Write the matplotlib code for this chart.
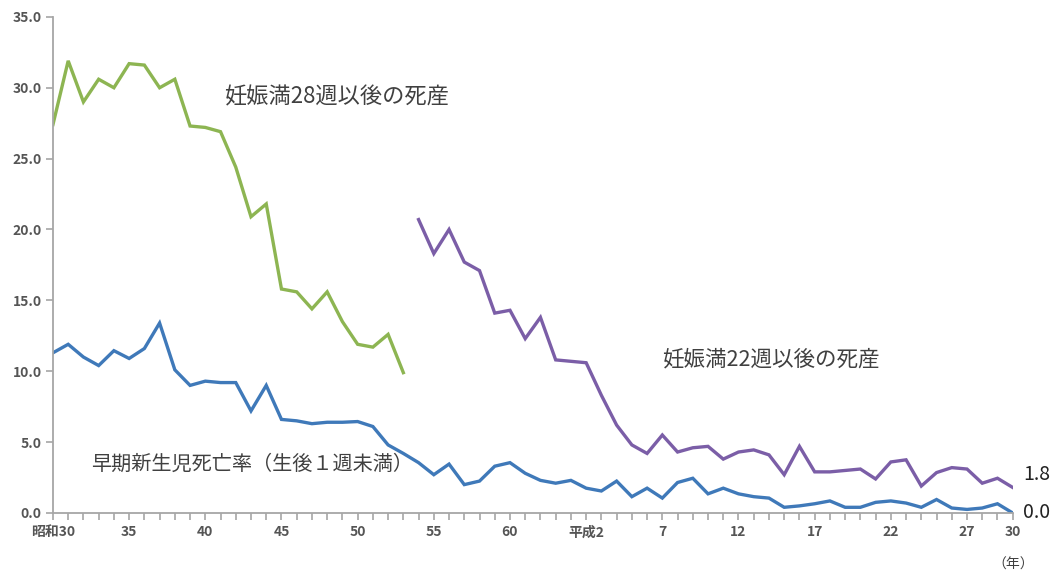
import matplotlib
matplotlib.use("Agg")
import matplotlib.pyplot as plt
import numpy as np

plt.rcParams['font.family'] = ['Noto Sans CJK JP', 'DejaVu Sans']

#-------------------------------------------------------------------------------
# Data (per 1000 births)

years = np.arange(1955, 2019)

# Stillbirths, 28 weeks of gestation and over (1955-1978)
years_28w = np.arange(1955, 1979)
still_28w = [27.4, 31.9, 29.0, 30.6, 30.0, 31.7, 31.6, 30.0, 30.6, 27.3,
             27.2, 26.9, 24.4, 20.9, 21.8, 15.8, 15.6, 14.4, 15.6, 13.5,
             11.9, 11.7, 12.6, 9.9]

# Stillbirths, 22 weeks of gestation and over (1979-2018)
years_22w = np.arange(1979, 2019)
still_22w = [20.7, 18.3, 20.0, 17.7, 17.1, 14.1, 14.3, 12.3, 13.8, 10.8,
             10.7, 10.6, 8.3, 6.2, 4.8, 4.2, 5.5, 4.3, 4.6, 4.7,
             3.8, 4.3, 4.45, 4.1, 2.7, 4.7, 2.9, 2.9, 3.0, 3.1,
             2.4, 3.6, 3.75, 1.9, 2.85, 3.2, 3.1, 2.1, 2.45, 1.8]

# Early neonatal mortality (under 1 week)
early_neonatal = [11.3, 11.9, 11.0, 10.4, 11.45, 10.9, 11.6, 13.4, 10.1, 9.0,
                  9.3, 9.2, 9.2, 7.2, 9.0, 6.6, 6.5, 6.3, 6.4, 6.4,
                  6.45, 6.1, 4.8, 4.2, 3.55, 2.7, 3.45, 2.0, 2.25, 3.3,
                  3.55, 2.8, 2.3, 2.1, 2.3, 1.75, 1.55, 2.25, 1.15, 1.75,
                  1.05, 2.15, 2.45, 1.35, 1.75, 1.35, 1.15, 1.05, 0.4, 0.5,
                  0.65, 0.85, 0.4, 0.4, 0.75, 0.85, 0.7, 0.4, 0.95, 0.35,
                  0.25, 0.35, 0.65, 0.0]

tick_years = [1955, 1960, 1965, 1970, 1975, 1980, 1985, 1990, 1995, 2000,
              2005, 2010, 2015, 2018]
tick_labels = ["昭和30", "35", "40", "45", "50", "55", "60", "平成2", "7", "12",
               "17", "22", "27", "30"]

#-------------------------------------------------------------------------------

def main():
  fig = plt.figure(figsize=(10.57, 5.82), dpi=100)
  ax = fig.add_axes([0.0501, 0.1186, 0.908, 0.8524])

  green = "#8db552"
  purple = "#7b5ea7"
  blue = "#3f79b9"
  text_col = "#404040"
  tick_col = "#555555"
  axis_col = "#a6a6a6"

  ax.plot(years_28w, still_28w, color=green, lw=2.4, solid_joinstyle="miter")
  ax.plot(years_22w, still_22w, color=purple, lw=2.4, solid_joinstyle="miter")
  ax.plot(years, early_neonatal, color=blue, lw=2.4, solid_joinstyle="miter")

  ax.set_xlim(1955, 2018)
  ax.set_ylim(0, 35)

  ax.set_yticks(np.arange(0, 35.1, 5))
  ax.set_yticklabels(["{:.1f}".format(v) for v in np.arange(0, 35.1, 5)])
  ax.set_xticks(tick_years)
  ax.set_xticklabels(tick_labels)
  ax.set_xticks(years, minor=True)

  for side in ["top", "right"]:
    ax.spines[side].set_visible(False)
  for side in ["left", "bottom"]:
    ax.spines[side].set_color(axis_col)
    ax.spines[side].set_linewidth(1.3)

  ax.tick_params(axis="y", which="major", direction="out", length=5,
                 color=axis_col, width=1.2, labelsize=10, labelcolor=tick_col, pad=3)
  ax.tick_params(axis="x", which="both", direction="out", length=5,
                 color=axis_col, width=1.2, labelsize=10, labelcolor=tick_col, pad=4)
  for lab in ax.get_yticklabels() + ax.get_xticklabels():
    lab.set_fontweight("bold")

  # Series labels
  ax.text(1966.2, 29.35, "妊娠満28週以後の死産", fontsize=16, color=text_col,
          ha="left", va="center")
  ax.text(1995.0, 10.8, "妊娠満22週以後の死産", fontsize=15.5, color=text_col,
          ha="left", va="center")
  ax.text(1957.5, 3.4, "早期新生児死亡率（生後１週未満）", fontsize=14.5, color=text_col,
          ha="left", va="center")

  # End values
  ax.text(2018.7, 2.7, "{:.1f}".format(still_22w[-1]), fontsize=14, color="#222222",
          ha="left", va="center")
  ax.text(2018.7, 0.0, "{:.1f}".format(early_neonatal[-1]), fontsize=14, color="#222222",
          ha="left", va="center")

  fig.text(0.978, 0.017, "（年）", fontsize=10, color=text_col, ha="right", va="bottom")

  fig.savefig("out.png", dpi=100)
  plt.close(fig)

if __name__ == "__main__":
  main()
